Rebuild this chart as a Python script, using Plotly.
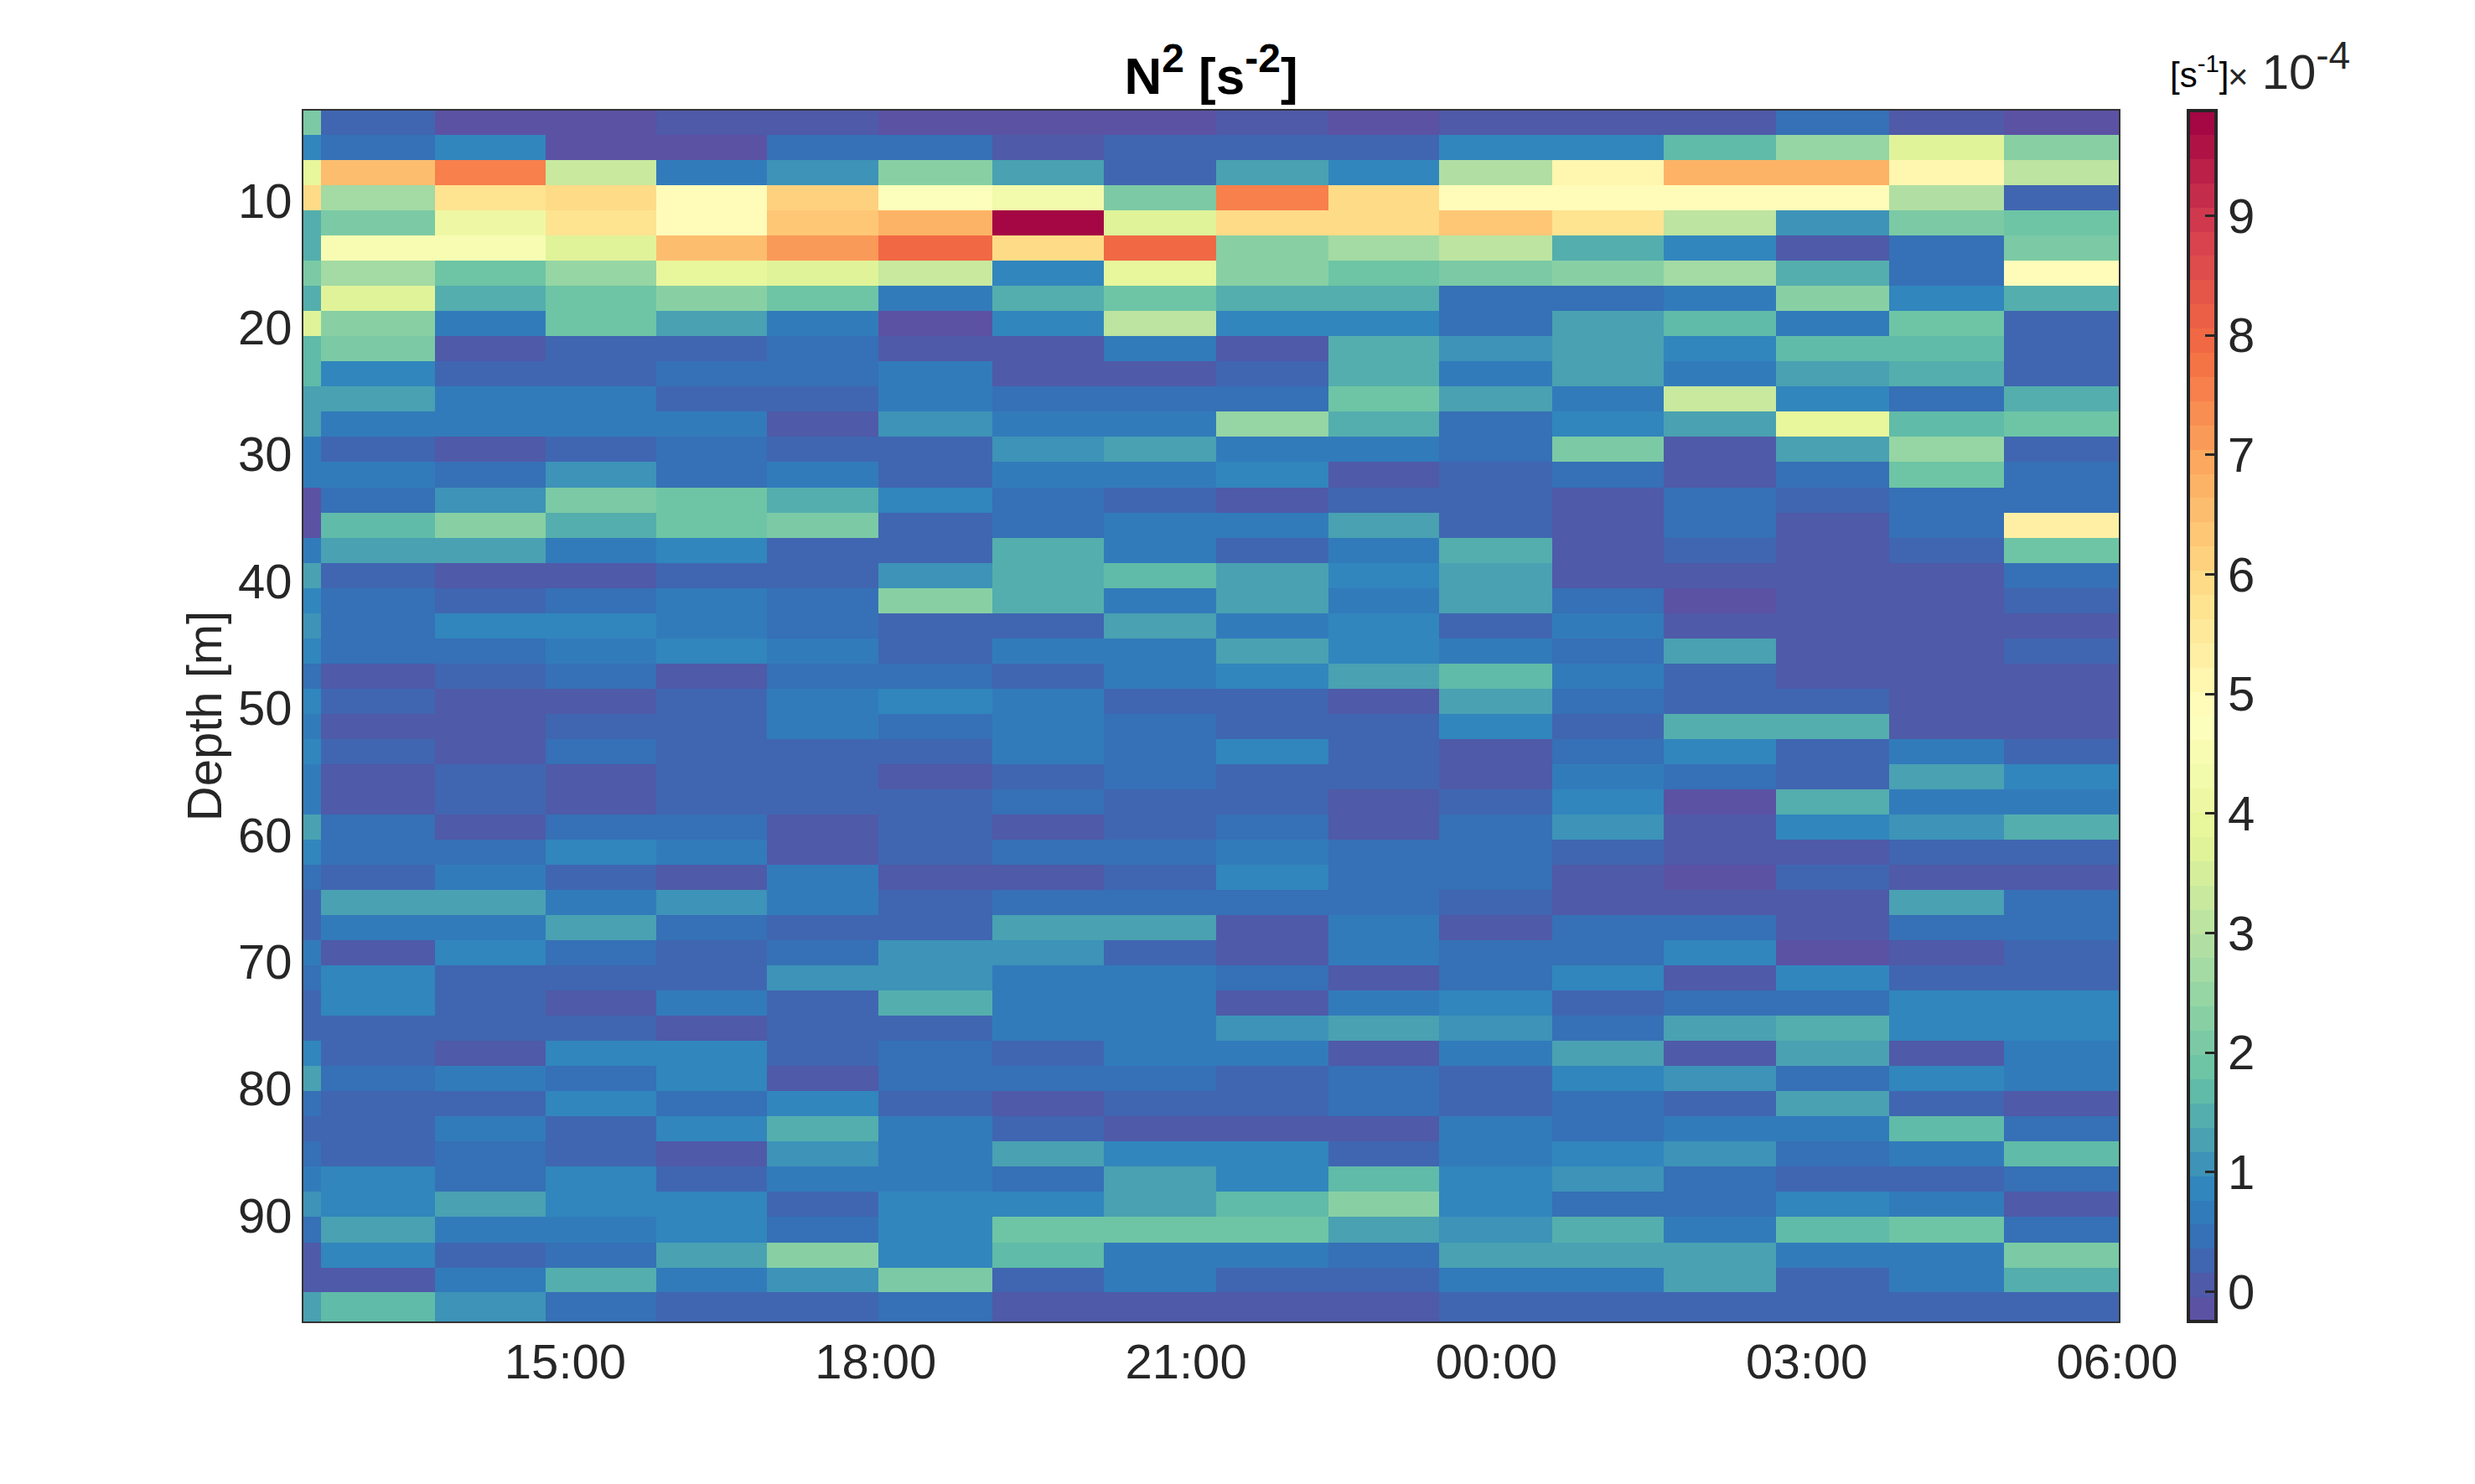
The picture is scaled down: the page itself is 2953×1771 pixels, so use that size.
import numpy as np
import plotly.graph_objects as go

# cell edges
time_edges = [
    "2020-01-01 12:28:08", "2020-01-01 12:38:06", "2020-01-01 13:44:13", "2020-01-01 14:48:50",
    "2020-01-01 15:52:58", "2020-01-01 16:57:07", "2020-01-01 18:01:45", "2020-01-01 19:07:50",
    "2020-01-01 20:12:28", "2020-01-01 21:17:35", "2020-01-01 22:22:41", "2020-01-01 23:26:49",
    "2020-01-02 00:32:28", "2020-01-02 01:37:05", "2020-01-02 02:42:11", "2020-01-02 03:47:49",
    "2020-01-02 04:54:25", "2020-01-02 06:00:58",
]
depth_edges = [
    2.92, 4.84, 6.82, 8.81, 10.79, 12.77, 14.76, 16.74, 18.72, 20.71, 22.69, 24.67, 26.66,
    28.64, 30.62, 32.61, 34.59, 36.57, 38.56, 40.54, 42.52, 44.51, 46.49, 48.47, 50.46,
    52.44, 54.42, 56.41, 58.39, 60.37, 62.36, 64.34, 66.32, 68.31, 70.29, 72.27, 74.26,
    76.24, 78.22, 80.21, 82.19, 84.17, 86.16, 88.14, 90.12, 92.11, 94.09, 96.06, 98.35,
]

# N2 in units of 1e-4, one row per depth bin
n2_values = [
    [2.0, 0.2, -0.15, -0.15, 0.05, 0.05, -0.15, -0.15, -0.15, 0.0, -0.15, 0.05, 0.05, 0.05, 0.4, 0.05, -0.15],
    [0.9, 0.4, 0.85, -0.15, -0.15, 0.4, 0.4, 0.1, 0.25, 0.2, 0.25, 0.8, 0.8, 1.65, 2.5, 3.7, 2.3],
    [4.0, 6.6, 7.6, 3.2, 0.7, 1.0, 2.35, 1.2, 0.2, 1.2, 0.8, 2.8, 5.2, 6.8, 6.8, 5.2, 3.0],
    [6.0, 2.6, 5.7, 5.9, 4.9, 6.1, 4.7, 4.3, 2.0, 7.65, 5.9, 4.9, 4.9, 4.85, 4.85, 2.8, 0.2],
    [1.5, 2.0, 4.1, 5.8, 4.9, 6.3, 6.8, 9.88, 3.6, 5.9, 5.9, 6.3, 5.8, 3.0, 1.0, 2.0, 1.8],
    [1.5, 4.5, 4.5, 3.8, 6.6, 7.2, 7.9, 6.0, 8.0, 2.2, 2.75, 3.05, 1.4, 0.85, 0.05, 0.4, 2.0],
    [2.1, 2.7, 1.8, 2.4, 3.9, 3.6, 3.2, 0.9, 4.0, 2.3, 1.8, 2.0, 2.2, 2.7, 1.4, 0.4, 4.85],
    [1.4, 3.6, 1.4, 1.8, 2.2, 1.8, 0.7, 1.4, 1.8, 1.4, 1.4, 0.4, 0.4, 0.7, 2.2, 0.9, 1.4],
    [3.7, 2.3, 0.6, 1.8, 1.2, 0.6, -0.15, 0.9, 3.1, 0.8, 0.8, 0.4, 1.2, 1.6, 0.6, 1.9, 0.3],
    [1.65, 2.0, 0.0, 0.2, 0.2, 0.4, 0.05, 0.05, 0.6, 0.1, 1.5, 1.0, 1.2, 0.85, 1.6, 1.6, 0.2],
    [1.7, 0.9, 0.2, 0.2, 0.4, 0.4, 0.6, 0.0, 0.0, 0.3, 1.5, 0.7, 1.2, 0.65, 1.2, 1.4, 0.2],
    [1.2, 1.2, 0.6, 0.6, 0.2, 0.2, 0.7, 0.4, 0.5, 0.4, 1.8, 1.2, 0.6, 3.2, 0.8, 0.4, 1.4],
    [1.2, 0.6, 0.6, 0.6, 0.7, 0.0, 1.0, 0.65, 0.65, 2.4, 1.4, 0.4, 0.9, 1.2, 3.9, 1.6, 1.9],
    [0.6, 0.25, 0.0, 0.2, 0.4, 0.3, 0.2, 1.0, 1.2, 0.6, 0.6, 0.4, 2.0, 0.0, 1.2, 2.5, 0.2],
    [0.7, 0.6, 0.4, 1.0, 0.4, 0.6, 0.2, 0.7, 0.7, 0.9, 0.1, 0.2, 0.4, 0.0, 0.4, 1.8, 0.4],
    [-0.1, 0.5, 1.0, 2.1, 1.8, 1.4, 0.8, 0.4, 0.2, 0.05, 0.3, 0.2, 0.0, 0.4, 0.2, 0.4, 0.4],
    [-0.1, 1.7, 2.35, 1.4, 1.8, 2.0, 0.2, 0.4, 0.6, 0.65, 1.2, 0.2, 0.0, 0.4, 0.0, 0.4, 5.3],
    [0.7, 1.2, 1.2, 0.6, 0.8, 0.3, 0.2, 1.4, 0.6, 0.2, 0.7, 1.4, 0.0, 0.2, 0.0, 0.2, 1.8],
    [1.3, 0.3, 0.1, 0.1, 0.3, 0.3, 1.0, 1.4, 1.65, 1.2, 0.9, 1.2, 0.0, 0.0, 0.0, 0.0, 0.4],
    [0.8, 0.4, 0.3, 0.5, 0.6, 0.4, 2.35, 1.4, 0.6, 1.2, 0.65, 1.2, 0.4, -0.15, 0.0, 0.0, 0.2],
    [1.0, 0.4, 0.8, 0.8, 0.6, 0.4, 0.2, 0.3, 1.2, 0.6, 0.85, 0.2, 0.6, 0.0, 0.0, 0.0, 0.0],
    [0.9, 0.4, 0.4, 0.6, 0.85, 0.6, 0.3, 0.6, 0.65, 1.2, 0.9, 0.6, 0.4, 1.2, 0.0, 0.0, 0.2],
    [0.5, 0.1, 0.3, 0.4, 0.0, 0.4, 0.4, 0.2, 0.65, 0.8, 1.2, 1.7, 0.65, 0.2, 0.0, 0.0, 0.0],
    [0.85, 0.2, 0.0, 0.0, 0.2, 0.6, 0.8, 0.6, 0.2, 0.2, 0.0, 1.2, 0.4, 0.2, 0.2, 0.0, 0.0],
    [0.6, 0.0, 0.0, 0.2, 0.2, 0.6, 0.4, 0.6, 0.4, 0.2, 0.2, 0.85, 0.2, 1.45, 1.45, 0.0, 0.0],
    [0.8, 0.2, 0.0, 0.4, 0.2, 0.2, 0.2, 0.6, 0.4, 0.85, 0.2, 0.0, 0.4, 0.85, 0.2, 0.6, 0.3],
    [0.6, 0.0, 0.2, 0.0, 0.2, 0.2, 0.0, 0.2, 0.4, 0.2, 0.2, 0.0, 0.6, 0.4, 0.2, 1.25, 0.8],
    [0.6, 0.0, 0.2, 0.0, 0.2, 0.2, 0.2, 0.4, 0.2, 0.2, 0.0, 0.2, 0.8, -0.2, 1.45, 0.6, 0.6],
    [1.25, 0.4, 0.0, 0.4, 0.4, 0.0, 0.2, 0.0, 0.2, 0.4, 0.1, 0.4, 1.0, 0.05, 0.8, 1.0, 1.4],
    [0.8, 0.4, 0.4, 0.8, 0.6, 0.0, 0.2, 0.4, 0.4, 0.6, 0.4, 0.4, 0.2, 0.0, 0.0, 0.2, 0.2],
    [0.4, 0.2, 0.6, 0.2, 0.0, 0.6, 0.0, 0.0, 0.2, 0.8, 0.4, 0.4, 0.0, -0.2, 0.2, 0.0, 0.1],
    [0.2, 1.25, 1.25, 0.6, 1.0, 0.6, 0.2, 0.4, 0.5, 0.4, 0.4, 0.2, 0.0, 0.0, 0.0, 1.25, 0.4],
    [0.2, 0.6, 0.6, 1.3, 0.4, 0.2, 0.2, 1.2, 1.2, 0.1, 0.6, 0.0, 0.4, 0.4, 0.0, 0.4, 0.4],
    [0.7, 0.0, 0.8, 0.4, 0.2, 0.4, 1.0, 1.0, 0.2, 0.1, 0.6, 0.4, 0.4, 0.9, -0.2, 0.0, 0.2],
    [0.5, 0.8, 0.2, 0.2, 0.2, 1.0, 1.0, 0.6, 0.6, 0.4, 0.0, 0.4, 0.8, 0.0, 0.8, 0.2, 0.2],
    [0.2, 0.8, 0.2, 0.0, 0.6, 0.2, 1.4, 0.6, 0.6, 0.1, 0.6, 0.8, 0.2, 0.4, 0.4, 0.8, 0.8],
    [0.2, 0.2, 0.2, 0.2, 0.0, 0.2, 0.2, 0.6, 0.6, 1.0, 1.3, 1.0, 0.4, 1.3, 1.45, 0.8, 0.8],
    [0.8, 0.2, 0.0, 0.8, 0.8, 0.2, 0.4, 0.2, 0.7, 0.6, 0.05, 0.6, 1.2, 0.0, 1.2, 0.0, 0.6],
    [1.2, 0.4, 0.6, 0.4, 0.8, 0.0, 0.4, 0.4, 0.4, 0.2, 0.4, 0.2, 0.8, 1.0, 0.4, 0.8, 0.6],
    [0.4, 0.2, 0.2, 0.8, 0.4, 0.8, 0.2, 0.1, 0.2, 0.2, 0.4, 0.2, 0.4, 0.3, 1.2, 0.2, 0.0],
    [0.2, 0.2, 0.6, 0.2, 0.8, 1.4, 0.6, 0.2, 0.1, 0.0, 0.0, 0.6, 0.4, 0.7, 0.7, 1.6, 0.4],
    [0.4, 0.2, 0.4, 0.2, 0.0, 1.0, 0.7, 1.2, 0.8, 0.8, 0.2, 0.6, 0.8, 1.0, 0.4, 0.6, 1.6],
    [0.7, 0.8, 0.4, 0.8, 0.2, 0.6, 0.6, 0.4, 1.2, 0.8, 1.6, 0.8, 1.0, 0.4, 0.2, 0.2, 0.4],
    [1.0, 0.8, 1.25, 0.8, 0.8, 0.2, 0.8, 0.8, 1.2, 1.6, 2.2, 0.8, 0.5, 0.4, 0.8, 0.6, 0.0],
    [0.5, 1.25, 0.6, 0.6, 0.8, 0.4, 0.8, 1.8, 1.8, 1.8, 1.2, 1.0, 1.4, 0.7, 1.6, 1.8, 0.4],
    [0.0, 0.8, 0.2, 0.4, 1.2, 2.35, 0.8, 1.6, 0.6, 0.6, 0.4, 1.2, 1.2, 1.2, 0.6, 0.7, 2.0],
    [0.0, 0.1, 0.6, 1.4, 0.65, 1.0, 2.0, 0.3, 0.6, 0.3, 0.2, 0.6, 0.65, 1.2, 0.3, 0.6, 1.4],
    [1.2, 1.6, 1.0, 0.4, 0.2, 0.2, 0.4, 0.0, 0.05, 0.0, 0.0, 0.2, 0.2, 0.3, 0.2, 0.2, 0.2],
]

x_tick_vals = ["2020-01-01 15:00", "2020-01-01 18:00", "2020-01-01 21:00",
               "2020-01-02 00:00", "2020-01-02 03:00", "2020-01-02 06:00"]
x_tick_text = ["15:00", "18:00", "21:00", "00:00", "03:00", "06:00"]
y_tick_vals = [10, 20, 30, 40, 50, 60, 70, 80, 90]
cbar_tick_vals = [0, 1, 2, 3, 4, 5, 6, 7, 8, 9]

# reversed Spectral, the low end follows the blues seen in the reference
cmap_stops = [0, 0.03, 0.05, 0.07, 0.09, 0.11, 0.2, 0.3, 0.4, 0.5, 0.6, 0.7, 0.8, 0.9, 1]
cmap_colors = ["#614ea1", "#4f5aa9", "#4066b1", "#3670b6", "#327bbb", "#3186bd", "#66c2a5", "#abdda4",
               "#e6f598", "#ffffbf", "#fee08b", "#fdae61", "#f46d43", "#d53e4f", "#9e0142"]
n_levels = 50
z_min, z_max = -0.25, 9.88
text_color = "#262626"
font_name = "Liberation Sans"

# page geometry in pixels
W, H = 2953, 1771
left, right, top, bottom = 361.5, 2528, 131.8, 1576.6


def stepped_colorscale(stops, colors, n):
    rgb = np.array([[int(c[i:i + 2], 16) for i in (1, 3, 5)] for c in colors], dtype=float)
    scale = []
    for k in range(n):
        mid = (k + 0.5) / n
        col = [int(round(np.interp(mid, stops, rgb[:, j]))) for j in range(3)]
        txt = f"rgb({col[0]},{col[1]},{col[2]})"
        scale.append([k / n, txt])
        scale.append([(k + 1) / n, txt])
    return scale


fig = go.Figure(go.Heatmap(
    x=time_edges,
    y=depth_edges,
    z=n2_values,
    zmin=z_min,
    zmax=z_max,
    colorscale=stepped_colorscale(cmap_stops, cmap_colors, n_levels),
    hoverongaps=False,
    colorbar=dict(
        x=(2611 - left) / (right - left),
        xanchor="left",
        xpad=0,
        ypad=0,
        y=0.5,
        yanchor="middle",
        len=1,
        lenmode="fraction",
        thickness=33,
        thicknessmode="pixels",
        outlinewidth=4,
        outlinecolor=text_color,
        ticks="inside",
        ticklen=15,
        tickwidth=3,
        tickcolor=text_color,
        tickvals=cbar_tick_vals,
        tickfont=dict(family=font_name, size=58, color=text_color),
    ),
))

fig.update_layout(
    width=W,
    height=H,
    autosize=False,
    paper_bgcolor="white",
    plot_bgcolor="white",
    font=dict(family=font_name, size=58, color=text_color),
    margin=dict(l=left, r=W - right, t=top, b=H - bottom, pad=0),
    title=dict(
        text="<b>N<sup><span style='font-size:48px'>2</span></sup> [s<sup><span style='font-size:48px'>-2</span></sup>]</b>",
        font=dict(family=font_name, size=62, color="black"),
        x=0.5,
        xref="paper",
        xanchor="center",
        y=1,
        yref="paper",
        yanchor="bottom",
        pad=dict(b=20),
    ),
    annotations=[
        dict(text="[s<sup>-1</sup>]", xref="paper", yref="paper",
             x=(2587 - left) / (right - left), y=1 + 17 / (bottom - top),
             xanchor="left", yanchor="bottom", showarrow=False,
             font=dict(family=font_name, size=42, color="black")),
        dict(text="<span style='font-size:42px'>×</span> 10<sup><span style='font-size:46px'>-4</span></sup>",
             xref="paper", yref="paper",
             x=(2656 - left) / (right - left), y=1 + 12 / (bottom - top),
             xanchor="left", yanchor="bottom", showarrow=False,
             font=dict(family=font_name, size=58, color=text_color)),
    ],
)

fig.update_xaxes(
    type="date",
    range=[time_edges[0], time_edges[-1]],
    tickvals=x_tick_vals,
    ticktext=x_tick_text,
    ticks="",
    ticklabelstandoff=-4,
    showgrid=False,
    zeroline=False,
    showline=True,
    mirror=True,
    linecolor="#333333",
    linewidth=2,
    tickfont=dict(family=font_name, size=58, color=text_color),
)
fig.update_yaxes(
    range=[depth_edges[-1], depth_edges[0]],
    tickvals=y_tick_vals,
    ticks="",
    showgrid=False,
    zeroline=False,
    showline=True,
    mirror=True,
    linecolor="#333333",
    linewidth=2,
    tickfont=dict(family=font_name, size=58, color=text_color),
    title=dict(text="Depth [m]", font=dict(family=font_name, size=58, color=text_color), standoff=1),
)

fig.write_html("out.html", config=dict(displayModeBar=False), post_script="document.body.style.margin='0';")
